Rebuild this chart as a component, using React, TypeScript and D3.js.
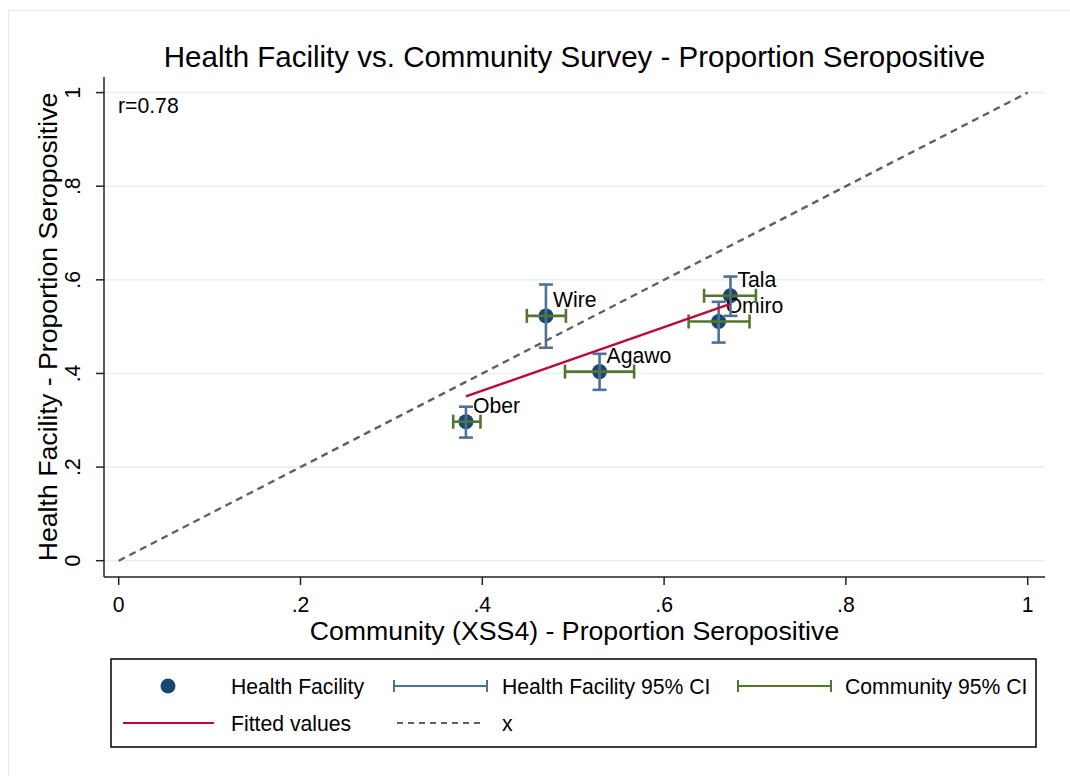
import React from "react";
import * as d3 from "d3";

const sites = ["Wire", "Tala", "Omiro", "Agawo", "Ober"];
const community = [0.470, 0.673, 0.660, 0.529, 0.382];
const healthFacility = [0.523, 0.566, 0.511, 0.404, 0.297];
const hfLow = [0.455, 0.523, 0.466, 0.365, 0.263];
const hfHigh = [0.590, 0.607, 0.553, 0.442, 0.329];
const commLow = [0.449, 0.644, 0.627, 0.491, 0.368];
const commHigh = [0.492, 0.701, 0.694, 0.567, 0.398];
const tickValues = [0, 0.2, 0.4, 0.6, 0.8, 1];
const tickLabels = ["0", ".2", ".4", ".6", ".8", "1"];
const legendRow1 = ["Health Facility", "Health Facility 95% CI", "Community 95% CI"];
const legendRow2 = ["Fitted values", "x"];

const FONT = "'Liberation Sans', Arial, Helvetica, sans-serif";
const NAVY = "#1a476f";
const HFCI = "#4d7294";
const GREEN = "#55752f";
const RED = "#c10534";
const DASH = "#606060";
const GRID = "#e6eff1";

export default function App() {
  const W = 1070, H = 776;
  const x = d3.scaleLinear().domain([0, 1]).range([118.7, 1027.7]);
  const y = d3.scaleLinear().domain([0, 1]).range([560.7, 92.6]);
  const plotL = 104, plotR = 1045, plotT = 77, plotB = 577;

  // linear regression of health facility on community
  const mx = d3.mean(community)!;
  const my = d3.mean(healthFacility)!;
  let sxy = 0, sxx = 0, syy = 0;
  community.forEach((c, i) => {
    sxy += (c - mx) * (healthFacility[i] - my);
    sxx += (c - mx) ** 2;
    syy += (healthFacility[i] - my) ** 2;
  });
  const slope = sxy / sxx;
  const intercept = my - slope * mx;
  const r = sxy / Math.sqrt(sxx * syy);
  const xmin = d3.min(community)!, xmax = d3.max(community)!;
  const fitLine = d3.line<number>().x((d) => x(d)).y((d) => y(intercept + slope * d));
  const diag = d3.line<number>().x((d) => x(d)).y((d) => y(d));

  const capH = 7;
  const fs = 21.2;

  return (
    <svg width={W} height={H} style={{ position: "absolute", left: 0, top: 0, background: "#fff" }} fontFamily={FONT}>
      <rect x={0} y={0} width={W} height={H} fill="#fff" />
      <rect x={8.5} y={10.5} width={1200} height={900} fill="none" stroke="#e4ecec" strokeWidth={1.2} />
      <text x={(plotL + plotR) / 2} y={67} textAnchor="middle" fontSize={29.5} fill="#000">
        Health Facility vs. Community Survey - Proportion Seropositive
      </text>
      {tickValues.map((t) => (
        <line key={"g" + t} x1={plotL} x2={plotR} y1={y(t)} y2={y(t)} stroke={GRID} strokeWidth={1.5} />
      ))}
      <line x1={plotL} x2={plotL} y1={plotT} y2={plotB} stroke="#222" strokeWidth={1.5} />
      <line x1={plotL} x2={plotR} y1={plotB} y2={plotB} stroke="#222" strokeWidth={1.5} />
      {tickValues.map((t, i) => (
        <g key={"yt" + t}>
          <line x1={plotL} x2={plotL - 8} y1={y(t)} y2={y(t)} stroke="#222" strokeWidth={1.5} />
          <text transform={`translate(80,${y(t)}) rotate(-90)`} textAnchor="middle" fontSize={fs} fill="#000">
            {tickLabels[i]}
          </text>
        </g>
      ))}
      {tickValues.map((t, i) => (
        <g key={"xt" + t}>
          <line x1={x(t)} x2={x(t)} y1={plotB} y2={plotB + 8} stroke="#222" strokeWidth={1.5} />
          <text x={x(t)} y={612} textAnchor="middle" fontSize={fs} fill="#000">
            {tickLabels[i]}
          </text>
        </g>
      ))}
      <text x={(plotL + plotR) / 2} y={640} textAnchor="middle" fontSize={26.7} fill="#000">
        Community (XSS4) - Proportion Seropositive
      </text>
      <text transform={`translate(57,${(plotT + plotB) / 2}) rotate(-90)`} textAnchor="middle" fontSize={26.7} fill="#000">
        Health Facility - Proportion Seropositive
      </text>
      <text x={118} y={113} fontSize={fs} fill="#000">{`r=${r.toFixed(2)}`}</text>

      {sites.map((s, i) => (
        <g key={"m" + s}>
          <circle cx={x(community[i])} cy={y(healthFacility[i])} r={7.5} fill={NAVY} />
          <text x={x(community[i]) + 7} y={y(healthFacility[i]) - 9} fontSize={fs} fill="#000">{s}</text>
        </g>
      ))}
      {sites.map((s, i) => {
        const cx = x(community[i]);
        return (
          <g key={"hf" + s} stroke={HFCI} strokeWidth={2.6} fill="none">
            <line x1={cx} x2={cx} y1={y(hfLow[i])} y2={y(hfHigh[i])} />
            <line x1={cx - capH} x2={cx + capH} y1={y(hfLow[i])} y2={y(hfLow[i])} />
            <line x1={cx - capH} x2={cx + capH} y1={y(hfHigh[i])} y2={y(hfHigh[i])} />
          </g>
        );
      })}
      {sites.map((s, i) => {
        const cy = y(healthFacility[i]);
        return (
          <g key={"cc" + s} stroke={GREEN} strokeWidth={2.6} fill="none">
            <line x1={x(commLow[i])} x2={x(commHigh[i])} y1={cy} y2={cy} />
            <line x1={x(commLow[i])} x2={x(commLow[i])} y1={cy - capH} y2={cy + capH} />
            <line x1={x(commHigh[i])} x2={x(commHigh[i])} y1={cy - capH} y2={cy + capH} />
          </g>
        );
      })}
      <path d={fitLine([xmin, xmax])!} stroke={RED} strokeWidth={2.4} fill="none" />
      <path d={diag([0, 1])!} stroke={DASH} strokeWidth={2.4} strokeDasharray="7,5" fill="none" />

      <rect x={111} y={659} width={925} height={88} fill="#fff" stroke="#000" strokeWidth={1.5} />
      <circle cx={168} cy={686} r={7.5} fill={NAVY} />
      <text x={231} y={693.5} fontSize={fs}>{legendRow1[0]}</text>
      <g stroke={HFCI} strokeWidth={2}>
        <line x1={394} x2={487} y1={686} y2={686} />
        <line x1={394} x2={394} y1={680} y2={692} />
        <line x1={487} x2={487} y1={680} y2={692} />
      </g>
      <text x={502} y={693.5} fontSize={fs}>{legendRow1[1]}</text>
      <g stroke={GREEN} strokeWidth={2}>
        <line x1={738} x2={831} y1={686} y2={686} />
        <line x1={738} x2={738} y1={680} y2={692} />
        <line x1={831} x2={831} y1={680} y2={692} />
      </g>
      <text x={845} y={693.5} fontSize={fs}>{legendRow1[2]}</text>
      <line x1={123} x2={214} y1={723} y2={723} stroke={RED} strokeWidth={2.2} />
      <text x={231} y={730.5} fontSize={fs}>{legendRow2[0]}</text>
      <line x1={397} x2={483} y1={723} y2={723} stroke={DASH} strokeWidth={2} strokeDasharray="6,5" />
      <text x={502} y={730.5} fontSize={fs}>{legendRow2[1]}</text>
    </svg>
  );
}
